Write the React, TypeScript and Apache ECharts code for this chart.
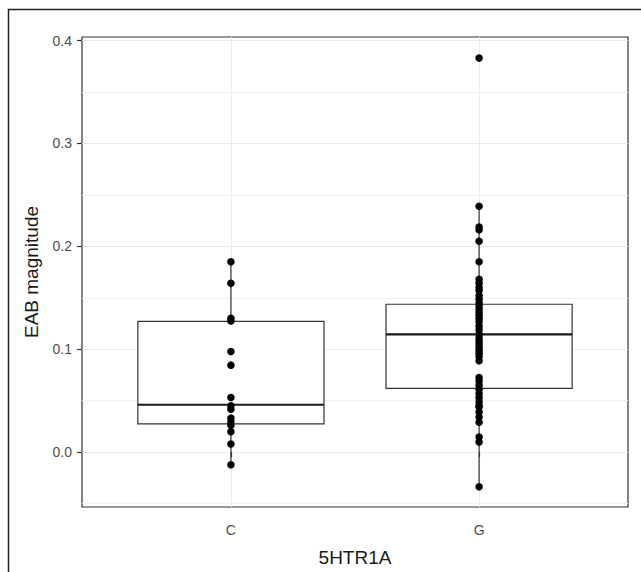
import React, { useEffect, useRef } from "react";
import * as echarts from "echarts";

const categories = ["C", "G"];
const yTicks = [0, 0.1, 0.2, 0.3, 0.4];
const yMinorGrid = [-0.05, 0.05, 0.15, 0.25, 0.35];

// boxplot stats: [whiskerLow, Q1, median, Q3, whiskerHigh]
const boxC = [-0.012, 0.0275, 0.046, 0.127, 0.185];
const boxG = [-0.033, 0.062, 0.1145, 0.1437, 0.239];

const pointsC = [
  0.185, 0.164, 0.130, 0.1275, 0.0977, 0.0845, 0.0531, 0.045, 0.0417, 0.033,
  0.0294, 0.026, 0.0197, 0.0078, -0.0123,
];
const pointsG = [
  0.383, 0.239, 0.2188, 0.216, 0.205, 0.185, 0.168, 0.164, 0.160, 0.157, 0.152,
  0.1485, 0.145, 0.142, 0.139, 0.136, 0.133, 0.130, 0.127, 0.1226, 0.119,
  0.1146, 0.111, 0.108, 0.105, 0.102, 0.099, 0.096, 0.093, 0.0887, 0.0725,
  0.069, 0.065, 0.061, 0.057, 0.053, 0.049, 0.045, 0.0437, 0.039, 0.034,
  0.029, 0.0146, 0.0097, -0.0337,
];

const FONT = "'Liberation Sans', Arial, sans-serif";

export default function App() {
  const ref = useRef<HTMLDivElement>(null);
  useEffect(() => {
    if (!ref.current) return;
    const chart = echarts.init(ref.current, undefined, { renderer: "svg" });
    const boxData = [
      [1, ...boxC],
      [2, ...boxG],
    ];
    const scatterData = [
      ...pointsC.map((v) => [1, v]),
      ...pointsG.map((v) => [2, v]),
    ];
    const halfW = 0.375;
    chart.setOption({
      animation: false,
      backgroundColor: "#ffffff",
      grid: {
        left: 82,
        top: 37,
        right: 13,
        bottom: 64,
        show: true,
        borderColor: "#333333",
        borderWidth: 1.2,
        backgroundColor: "#ffffff",
      },
      xAxis: {
        type: "value",
        min: 0.4,
        max: 2.6,
        name: "5HTR1A",
        nameLocation: "middle",
        nameGap: 41,
        nameTextStyle: { fontFamily: FONT, fontSize: 19, color: "#1a1a1a" },
        axisLine: { show: false },
        axisTick: {
          show: true,
          customValues: [1, 2],
          length: 5,
          lineStyle: { color: "#333333", width: 1.2 },
        },
        axisLabel: {
          customValues: [1, 2],
          formatter: (v: number) => categories[Math.round(v) - 1] ?? "",
          fontFamily: FONT,
          fontSize: 14,
          color: "#4d4d4d",
          margin: 16,
        },
        splitLine: { show: true, lineStyle: { color: "#ebebeb", width: 1 } },
      },
      yAxis: [
        {
          type: "value",
          min: -0.0534,
          max: 0.4035,
          name: "EAB magnitude",
          nameLocation: "middle",
          nameGap: 41,
          nameTextStyle: { fontFamily: FONT, fontSize: 19, color: "#1a1a1a" },
          axisLine: { show: false },
          axisTick: {
            show: true,
            customValues: yTicks,
            length: 5,
            lineStyle: { color: "#333333", width: 1.2 },
          },
          axisLabel: {
            customValues: yTicks,
            formatter: (v: number) => v.toFixed(1),
            fontFamily: FONT,
            fontSize: 14,
            color: "#4d4d4d",
            margin: 10,
          },
          splitLine: { show: true, lineStyle: { color: "#ebebeb", width: 1 } },
        },
        {
          type: "value",
          min: -0.0534,
          max: 0.4035,
          position: "left",
          axisLine: { show: false },
          axisTick: { show: false, customValues: yMinorGrid },
          axisLabel: { show: false, customValues: yMinorGrid },
          splitLine: { show: true, lineStyle: { color: "#f2f2f2", width: 1 } },
        },
      ],
      graphic: [
        {
          type: "rect",
          shape: { x: 8.5, y: 9.5, width: 700, height: 700 },
          style: { fill: "none", stroke: "#222222", lineWidth: 1.5 },
          z: 100,
        },
      ],
      series: [
        {
          type: "custom",
          yAxisIndex: 0,
          data: boxData,
          z: 2,
          renderItem: (params: any, api: any) => {
            const x = api.value(0);
            const lo = api.value(1);
            const q1 = api.value(2);
            const med = api.value(3);
            const q3 = api.value(4);
            const hi = api.value(5);
            const pTL = api.coord([x - halfW, q3]);
            const pBR = api.coord([x + halfW, q1]);
            const pMedL = api.coord([x - halfW, med]);
            const pMedR = api.coord([x + halfW, med]);
            const pHi = api.coord([x, hi]);
            const pQ3 = api.coord([x, q3]);
            const pQ1 = api.coord([x, q1]);
            const pLo = api.coord([x, lo]);
            const lineStyle = { stroke: "#333333", lineWidth: 1.2 };
            return {
              type: "group",
              children: [
                {
                  type: "line",
                  shape: { x1: pHi[0], y1: pHi[1], x2: pQ3[0], y2: pQ3[1] },
                  style: lineStyle,
                },
                {
                  type: "line",
                  shape: { x1: pQ1[0], y1: pQ1[1], x2: pLo[0], y2: pLo[1] },
                  style: lineStyle,
                },
                {
                  type: "rect",
                  shape: {
                    x: pTL[0],
                    y: pTL[1],
                    width: pBR[0] - pTL[0],
                    height: pBR[1] - pTL[1],
                  },
                  style: { fill: "#ffffff", stroke: "#333333", lineWidth: 1.2 },
                },
                {
                  type: "line",
                  shape: { x1: pMedL[0], y1: pMedL[1], x2: pMedR[0], y2: pMedR[1] },
                  style: { stroke: "#1a1a1a", lineWidth: 2.2 },
                },
              ],
            };
          },
        },
        {
          type: "scatter",
          yAxisIndex: 0,
          data: scatterData,
          symbol: "circle",
          symbolSize: 7.5,
          itemStyle: { color: "#000000", opacity: 1 },
          z: 3,
        },
      ],
    });
    return () => chart.dispose();
  }, []);
  return (
    <div
      ref={ref}
      style={{ position: "absolute", left: 0, top: 0, width: 641, height: 572 }}
    />
  );
}
